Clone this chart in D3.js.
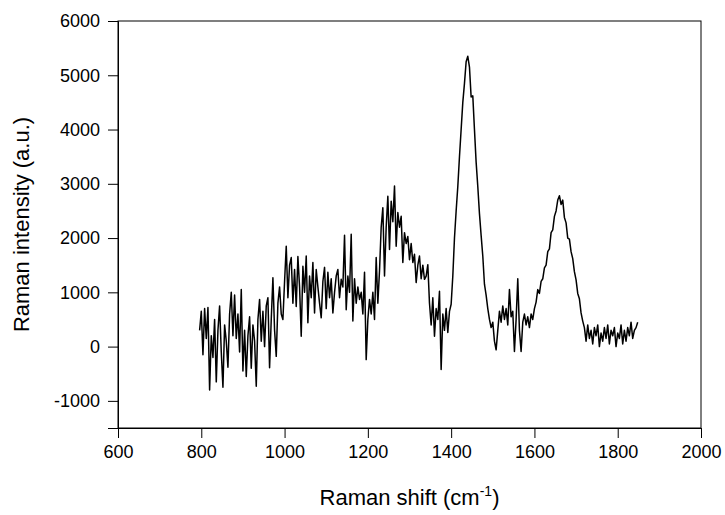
<!DOCTYPE html>
<html><head><meta charset="utf-8">
<script src="https://cdn.jsdelivr.net/npm/d3@7"></script>
<style>body{margin:0;background:#fff}svg{display:block}</style>
</head><body>
<svg id="c" width="725" height="515"></svg>
<script>
// Raman shift grid: 796 to 1848 cm^-1, step 4
const shiftStart = 796, shiftStep = 4;
// Raman intensity (a.u.), rows of 25 points (100 cm^-1)
const intensities = [
  /*796*/ 300,650,-150,700,150,720,-800,200,-200,500,-650,300,750,-100,-750,400,100,-380,600,1000,200,950,150,600,-100,
  /*896*/ 1050,-450,300,-550,200,550,-400,400,100,-730,500,870,100,650,0,750,900,-390,500,1270,300,-180,800,1100,600,
  /*996*/ 500,1200,1850,900,1500,1640,800,1420,740,1660,1100,190,1480,1000,1670,440,1300,900,1550,620,1420,1100,800,530,1200,
  /*1096*/ 1460,700,1370,900,1250,620,1000,1300,1420,900,1240,1100,2050,680,1300,1000,2070,470,1250,800,1100,870,1000,600,1370,
  /*1196*/ -240,500,870,600,1000,500,1640,800,1400,2200,2560,1300,2200,2770,1790,2680,2300,2960,1850,2470,2200,2400,1550,2100,1900,
  /*1296*/ 2030,1600,1900,1550,1700,1180,1500,1670,1250,1500,1240,1300,1510,800,400,900,190,700,500,1020,-420,600,300,700,260,
  /*1396*/ 650,780,1300,2000,2500,2950,3500,4000,4500,4850,5250,5350,5150,4600,4620,4000,3400,2950,2450,2050,1670,1150,950,700,500,
  /*1496*/ 350,450,100,-60,300,650,450,750,500,700,400,1050,550,650,-90,500,1250,300,-90,450,600,400,550,350,600,
  /*1596*/ 500,700,820,1050,980,1200,1250,1450,1500,1750,1800,2100,2150,2400,2500,2700,2780,2620,2700,2380,2280,2000,1980,1750,1620,
  /*1696*/ 1380,1230,980,880,620,470,350,100,400,150,300,50,350,200,400,0,250,100,350,150,400,50,300,200,350,
  /*1796*/ 0,250,150,400,50,300,100,350,200,450,150,300,350,450
];
const xTicks = [600,800,1000,1200,1400,1600,1800,2000];
const yTicks = [-1000,0,1000,2000,3000,4000,5000,6000];
const xTitle = "Raman shift (cm";
const xTitleSup = "-1";
const yTitle = "Raman intensity (a.u.)";

const data = intensities.map((v,i)=>({x: shiftStart + i*shiftStep, y: v}));

const svg = d3.select("#c");
const m = {l:118, r:24, t:21, b:87};
const W = 725, H = 515;
const x = d3.scaleLinear().domain([600,2000]).range([m.l, W-m.r]);
const y = d3.scaleLinear().domain([-1500,6000]).range([H-m.b, m.t]);
const font = "Arial, 'Liberation Sans', sans-serif";

// frame
svg.append("rect").attr("x", m.l).attr("y", m.t)
  .attr("width", W-m.r-m.l).attr("height", H-m.b-m.t)
  .attr("fill","none").attr("stroke","#000").attr("stroke-width",1);

const gx = svg.append("g").attr("transform",`translate(0,${H-m.b})`)
  .call(d3.axisBottom(x).tickValues(xTicks).tickSize(10).tickPadding(7).tickFormat(d=>String(d)));
const gy = svg.append("g").attr("transform",`translate(${m.l},0)`)
  .call(d3.axisLeft(y).tickValues(yTicks).tickSize(10).tickPadding(8).tickFormat(d=>String(d)));
[gx,gy].forEach(g=>{
  g.select(".domain").attr("stroke","#000");
  g.selectAll(".tick line").attr("stroke","#000");
  g.selectAll("text").attr("fill","#000").style("font-family",font).style("font-size","18px");
});

// spectrum
svg.append("path").datum(data)
  .attr("fill","none").attr("stroke","#000").attr("stroke-width",1.5).attr("stroke-linejoin","round")
  .attr("d", d3.line().x(d=>x(d.x)).y(d=>y(d.y)));

// titles
const xt = svg.append("text").attr("x", (m.l+W-m.r)/2).attr("y", 505)
  .attr("text-anchor","middle").style("font-family",font).style("font-size","22px").attr("fill","#000");
xt.append("tspan").text(xTitle);
xt.append("tspan").attr("dy",-9).style("font-size","14px").text(xTitleSup);
xt.append("tspan").attr("dy",9).text(")");

svg.append("text").attr("transform",`translate(29,${(m.t+H-m.b)/2}) rotate(-90)`)
  .attr("text-anchor","middle").style("font-family",font).style("font-size","22px").attr("fill","#000")
  .text(yTitle);
</script>
</body></html>
